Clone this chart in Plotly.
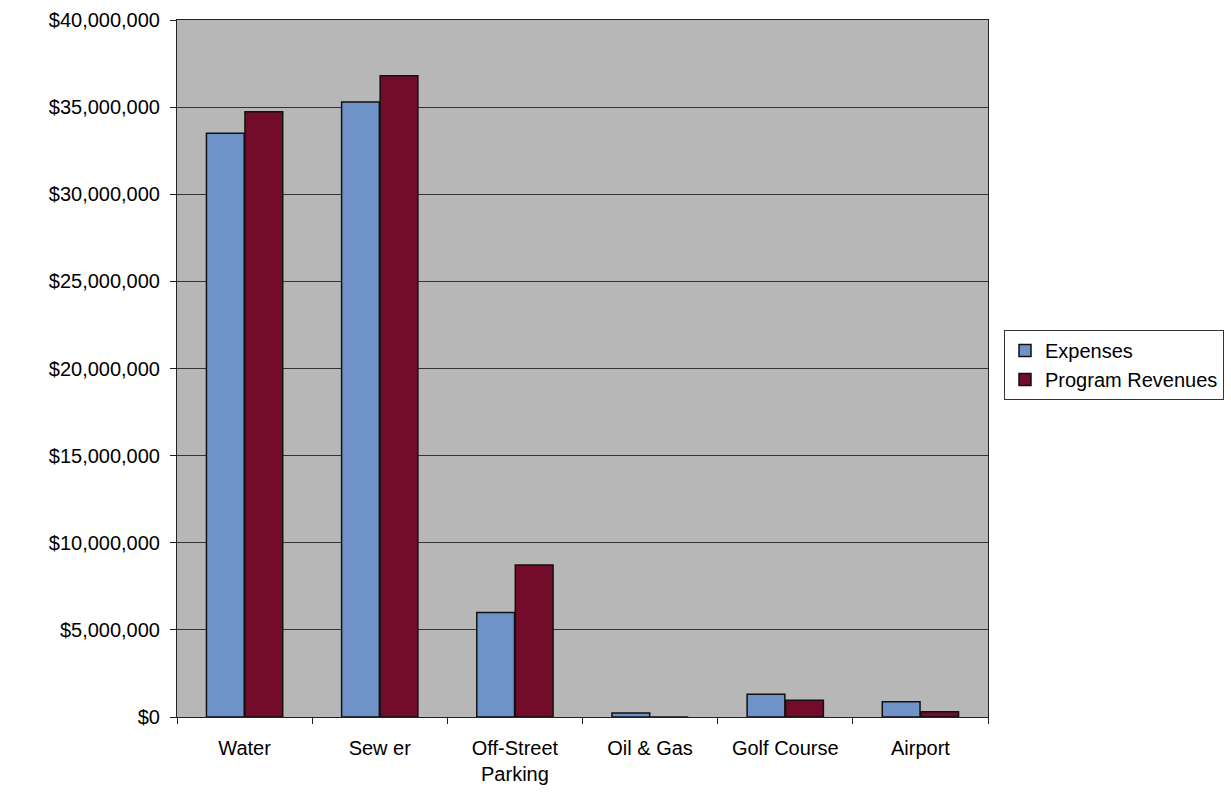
import plotly.graph_objects as go

categories = ["Water", "Sew er", "Off-Street<br>Parking", "Oil & Gas", "Golf Course", "Airport"]
expenses = [33500000, 35300000, 6000000, 230000, 1300000, 880000]
program_revenues = [34730000, 36800000, 8720000, 0, 960000, 300000]
y_ticks = [0, 5000000, 10000000, 15000000, 20000000, 25000000, 30000000, 35000000, 40000000]

fig = go.Figure()
fig.add_trace(go.Bar(name="Expenses", x=categories, y=expenses,
                     marker=dict(color="#6f93c9", line=dict(color="#111111", width=1.5))))
fig.add_trace(go.Bar(name="Program Revenues", x=categories, y=program_revenues,
                     marker=dict(color="#720c2a", line=dict(color="#111111", width=1.5))))

fig.update_layout(
    width=1231, height=794,
    margin=dict(l=177, r=243, t=20, b=77, autoexpand=False),
    paper_bgcolor="white",
    plot_bgcolor="#b7b7b7",
    barmode="group",
    bargap=0.43,
    bargroupgap=0.02,
    font=dict(family="Arial, Liberation Sans, sans-serif", size=20, color="black"),
    legend=dict(xref="container", yref="container", x=1004 / 1231, xanchor="left",
                y=1 - 365 / 794, yanchor="middle",
                bordercolor="#333333", borderwidth=1, bgcolor="white",
                font=dict(size=20), itemwidth=30, tracegroupgap=2),
    showlegend=True,
)
fig.update_xaxes(showline=True, linecolor="#222222", linewidth=1, mirror=True,
                 ticks="outside", ticklen=6, tickcolor="#222222", tickson="boundaries",
                 tickfont=dict(size=20), showgrid=False, ticklabelstandoff=13,
                 automargin=False)
fig.update_yaxes(range=[0, 40000000], tickvals=y_ticks, tickformat="$,.0f",
                 showline=True, linecolor="#222222", linewidth=1, mirror=True,
                 ticks="outside", ticklen=6, tickcolor="#222222",
                 showgrid=True, gridcolor="#333333", gridwidth=1, zeroline=False,
                 tickfont=dict(size=20), ticklabelstandoff=6, automargin=False)

fig.write_html("out.html")
